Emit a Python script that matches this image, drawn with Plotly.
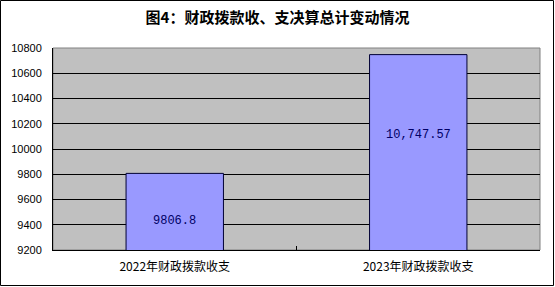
import plotly.graph_objects as go

# Fiscal appropriation totals by year
categories = ["2022年财政拨款收支", "2023年财政拨款收支"]
values = [9806.8, 10747.57]
value_labels = ["9806.8", "10,747.57"]
label_anchor = [9430, 10110]  # where each value label sits inside its bar
y_ticks = [9200, 9400, 9600, 9800, 10000, 10200, 10400, 10600, 10800]
y_tick_text = [str(v) for v in y_ticks]

W, H = 555, 287
ML, MR, MT, MB = 53, 15, 48, 37
PW, PH = W - ML - MR, H - MT - MB

fig = go.Figure(
    go.Bar(
        x=categories,
        y=values,
        marker=dict(color="#9999FF", line=dict(color="#000033", width=1)),
        width=0.4,
    )
)

for cat, lab, ya in zip(categories, value_labels, label_anchor):
    fig.add_annotation(
        x=cat, y=ya, text=lab, showarrow=False,
        font=dict(family="Liberation Mono", size=12, color="#000066"),
    )

# outer frame around the whole figure, expressed in paper units
fx0 = (0.5 - ML) / PW
fx1 = (W - 1.5 - ML) / PW
fy1 = (H - MB - 0.5) / PH
fy0 = (H - MB - (H - 1.5)) / PH

fig.update_layout(
    width=W,
    height=H,
    margin=dict(l=ML, r=MR, t=MT, b=MB),
    paper_bgcolor="white",
    plot_bgcolor="#C0C0C0",
    showlegend=False,
    title=dict(
        text="<b>图4：财政拨款收、支决算总计变动情况</b>",
        x=0.5,
        xanchor="center",
        y=1 - 18 / H,
        yanchor="middle",
        font=dict(family="Noto Sans CJK SC", size=15, color="black"),
    ),
    xaxis=dict(
        showline=True,
        linecolor="black",
        linewidth=1,
        ticks="inside",
        tickson="boundaries",
        ticklen=4,
        tickcolor="black",
        showgrid=False,
        ticklabelstandoff=6,
        tickfont=dict(family="Noto Sans CJK SC", size=12, color="black"),
    ),
    yaxis=dict(
        range=[9200, 10800],
        tickvals=y_ticks,
        ticktext=y_tick_text,
        showline=True,
        linecolor="black",
        linewidth=1,
        showgrid=True,
        gridcolor="black",
        gridwidth=1,
        zeroline=False,
        ticks="",
        ticklabelstandoff=8,
        tickfont=dict(family="Liberation Sans", size=11, color="black"),
    ),
    shapes=[
        dict(type="rect", xref="paper", yref="paper", x0=0, x1=1, y0=0, y1=1,
             line=dict(color="#808080", width=1), layer="below"),
        dict(type="rect", xref="paper", yref="paper", x0=fx0, x1=fx1, y0=fy0, y1=fy1,
             line=dict(color="black", width=1), fillcolor="rgba(0,0,0,0)"),
    ],
)

fig.write_html("out.html")
